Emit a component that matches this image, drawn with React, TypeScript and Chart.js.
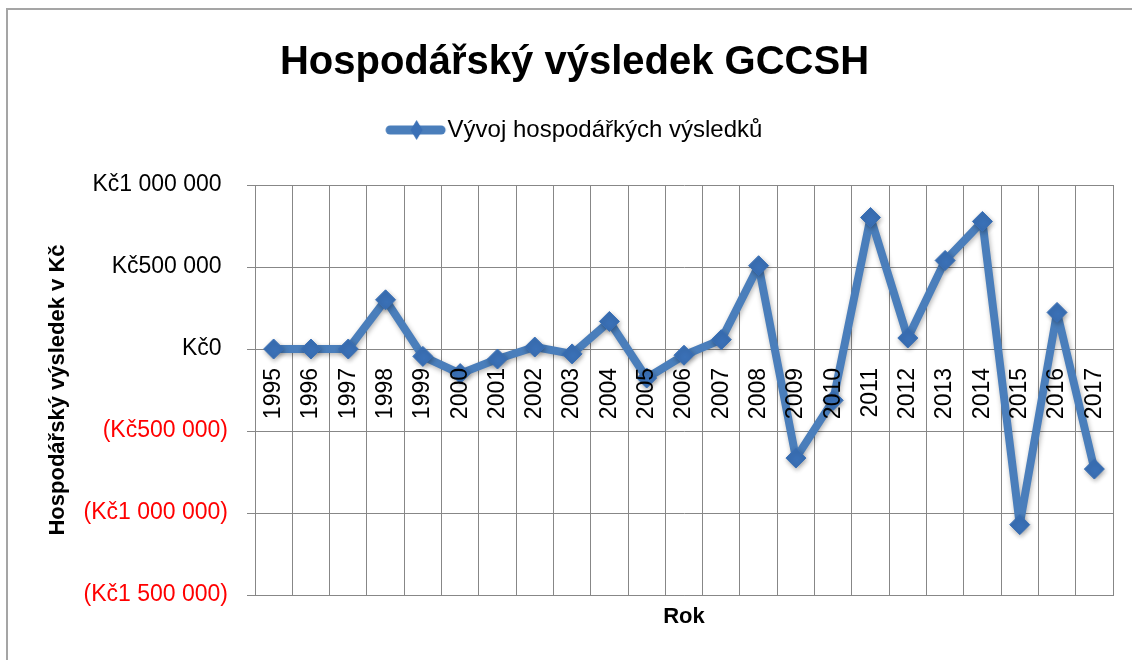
import { useEffect, useRef } from 'react';
import { Chart, registerables } from 'chart.js';

Chart.register(...registerables);

const years = ['1995', '1996', '1997', '1998', '1999', '2000', '2001', '2002', '2003', '2004', '2005', '2006', '2007', '2008', '2009', '2010', '2011', '2012', '2013', '2014', '2015', '2016', '2017'];
const results = [0, 0, 0, 300000, -45000, -150000, -61000, 12000, -30000, 168000, -177000, -38000, 57000, 508000, -665000, -313000, 802000, 67000, 540000, 778000, -1071000, 223000, -732000];
const yMin = -1500000;
const yMax = 1000000;
const yStep = 500000;

const titleText = 'Hospodářský výsledek GCCSH';
const seriesName = 'Vývoj hospodářkých výsledků';
const yTitle = 'Hospodářský výsledek v Kč';
const xTitle = 'Rok';

const FONT = '"Liberation Sans", Arial, sans-serif';
const LINE = '#4a7ebb';
const MARK = '#3a70b6';
const GRID = '#878787';

const fmtKc = (v: number) => {
  const s = Math.abs(v).toFixed(0).replace(/\B(?=(\d{3})+(?!\d))/g, ' ');
  return v < 0 ? `(Kč${s})` : `Kč${s} `;
};

function makeLegendIcon() {
  const c = document.createElement('canvas');
  c.width = 100;
  c.height = 24;
  const g = c.getContext('2d')!;
  g.strokeStyle = LINE;
  g.lineWidth = 9;
  g.lineCap = 'round';
  g.beginPath();
  g.moveTo(29, 12);
  g.lineTo(80, 12);
  g.stroke();
  g.fillStyle = MARK;
  g.beginPath();
  g.moveTo(55.5, 2);
  g.lineTo(61.5, 12);
  g.lineTo(55.5, 22);
  g.lineTo(49.5, 12);
  g.closePath();
  g.fill();
  return c;
}

const framePlugin = {
  id: 'frame',
  beforeDraw(chart: any) {
    const ctx = chart.ctx;
    ctx.save();
    ctx.strokeStyle = '#a5a5a5';
    ctx.lineWidth = 2;
    ctx.beginPath();
    ctx.moveTo(7, chart.height);
    ctx.lineTo(7, 9);
    ctx.lineTo(chart.width, 9);
    ctx.stroke();
    ctx.restore();
  },
};

const shadowPlugin = {
  id: 'shadow',
  beforeDatasetsDraw(chart: any) {
    const ctx = chart.ctx;
    ctx.save();
    ctx.shadowColor = 'rgba(0,0,0,0.3)';
    ctx.shadowBlur = 5;
    ctx.shadowOffsetX = 1;
    ctx.shadowOffsetY = 2;
  },
  afterDatasetsDraw(chart: any) {
    chart.ctx.restore();
  },
};

const xLabelPlugin = {
  id: 'xLabelsAtZero',
  afterDatasetsDraw(chart: any) {
    const ctx = chart.ctx;
    const xs = chart.scales.x;
    const ys = chart.scales.y;
    const y0 = ys.getPixelForValue(0);
    ctx.save();
    ctx.font = `23px ${FONT}`;
    ctx.fillStyle = '#000000';
    ctx.textAlign = 'right';
    ctx.textBaseline = 'middle';
    years.forEach((_, i) => {
      const x = xs.getPixelForValue(i);
      ctx.save();
      ctx.translate(x, y0 + 19);
      ctx.rotate(-Math.PI / 2);
      ctx.fillText(xs.getLabelForValue(i), 0, 0);
      ctx.restore();
    });
    ctx.restore();
  },
};

export default function App() {
  const ref = useRef<HTMLCanvasElement | null>(null);

  useEffect(() => {
    if (!ref.current) return;
    const chart = new Chart(ref.current, {
      type: 'line',
      data: {
        labels: years,
        datasets: [
          {
            label: seriesName,
            data: results,
            borderColor: LINE,
            backgroundColor: MARK,
            borderWidth: 8,
            borderJoinStyle: 'round',
            borderCapStyle: 'round',
            pointStyle: 'rectRot',
            pointRadius: 10,
            pointHoverRadius: 10,
            pointBackgroundColor: MARK,
            pointBorderColor: MARK,
            pointBorderWidth: 1,
            tension: 0,
            clip: false,
          } as any,
        ],
      },
      options: {
        animation: false,
        responsive: true,
        maintainAspectRatio: false,
        layout: { padding: { top: 0, right: 19, bottom: 0, left: 36 } },
        plugins: {
          title: {
            display: true,
            text: titleText,
            color: '#000000',
            font: { family: FONT, size: 40, weight: 'bold' },
            padding: { top: 39, bottom: 21 },
          },
          legend: {
            display: true,
            position: 'top',
            labels: {
              usePointStyle: true,
              pointStyle: makeLegendIcon() as any,
              pointStyleWidth: 49,
              padding: 10,
              color: '#000000',
              font: { family: FONT, size: 24 },
            },
          },
          subtitle: {
            display: true,
            text: '',
            weight: 500,
            font: { size: 10 },
            padding: { top: 0, bottom: 21 },
          } as any,
          tooltip: { enabled: false },
        },
        scales: {
          x: {
            type: 'category',
            offset: true,
            grid: { offset: true, color: GRID, lineWidth: 1, drawTicks: false },
            border: { color: GRID, width: 1 },
            ticks: { display: false },
            title: {
              display: true,
              text: xTitle,
              color: '#000000',
              font: { family: FONT, size: 22, weight: 'bold' },
              padding: { top: 0, bottom: 30 },
            },
            afterFit: (s: any) => {
              s.height = 65;
            },
          },
          y: {
            min: yMin,
            max: yMax,
            grid: { color: GRID, lineWidth: 1, drawTicks: true, tickLength: 8 },
            border: { color: GRID, width: 1 },
            ticks: {
              stepSize: yStep,
              padding: 19,
              font: { family: FONT, size: 23 },
              color: (c: any) => (c.tick && c.tick.value < 0 ? '#ff0000' : '#000000'),
              callback: (v: any) => fmtKc(Number(v)),
            },
            title: {
              display: true,
              text: yTitle,
              color: '#000000',
              font: { family: FONT, size: 22, weight: 'bold' },
              padding: { top: 9, bottom: 0 },
            },
            afterFit: (s: any) => {
              s.width = 219;
            },
          },
        },
      },
      plugins: [framePlugin, shadowPlugin, xLabelPlugin],
    } as any);
    return () => chart.destroy();
  }, []);

  return (
    <div style={{ position: 'absolute', left: 0, top: 0, width: 1132, height: 660, background: '#ffffff' }}>
      <canvas ref={ref} />
    </div>
  );
}
